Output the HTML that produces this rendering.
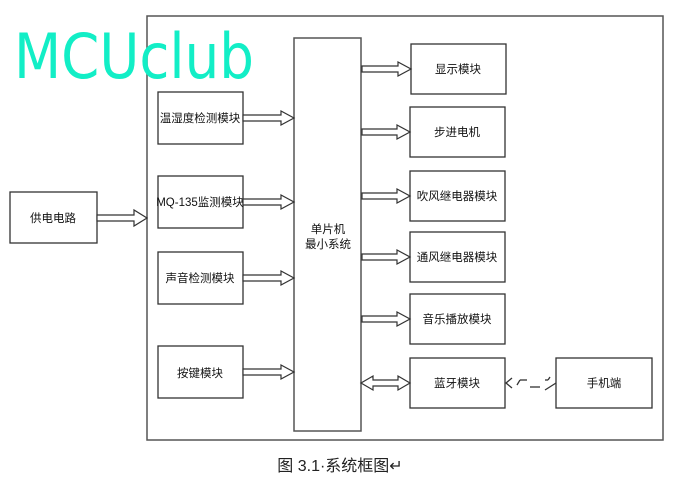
<!DOCTYPE html>
<html><head><meta charset="utf-8"><style>body{margin:0;background:#fff}svg{display:block}
text{font-family:"Liberation Sans","Noto Sans CJK SC",sans-serif;font-size:11.5px;fill:#111}</style></head>
<body>
<svg width="673" height="481" viewBox="0 0 673 481">
<g fill="#fff" stroke="#555" stroke-width="1.5">
<rect x="147" y="16" width="516" height="424"/>
<rect x="294" y="38" width="67" height="393"/>
</g>
<g fill="#fff" stroke="#333" stroke-width="1.3">
<rect x="158" y="92" width="85" height="52"/>
<rect x="158" y="176" width="85" height="52"/>
<rect x="158" y="252" width="85" height="52"/>
<rect x="158" y="346" width="85" height="52"/>
<rect x="10" y="192" width="87" height="51"/>
<rect x="411" y="44" width="95" height="50"/>
<rect x="410" y="107" width="95" height="50"/>
<rect x="410" y="171" width="95" height="50"/>
<rect x="410" y="232" width="95" height="50"/>
<rect x="410" y="294" width="95" height="50"/>
<rect x="410" y="358" width="95" height="50"/>
<rect x="556" y="358" width="96" height="50"/>
</g>
<g fill="#fff" stroke="#333" stroke-width="1.2">
<polygon points="243,115 281,115 281,111 294,118 281,125 281,121 243,121"/>
<polygon points="243,199 281,199 281,195 294,202 281,209 281,205 243,205"/>
<polygon points="243,275 281,275 281,271 294,278 281,285 281,281 243,281"/>
<polygon points="243,369 281,369 281,365 294,372 281,379 281,375 243,375"/>
<polygon points="97,215 134,215 134,210 147,218 134,226 134,221 97,221"/>
<polygon points="362,66 398,66 398,62 411,69 398,76 398,72 362,72"/>
<polygon points="362,129 397,129 397,125 410,132 397,139 397,135 362,135"/>
<polygon points="362,193 397,193 397,189 410,196 397,203 397,199 362,199"/>
<polygon points="362,254 397,254 397,250 410,257 397,264 397,260 362,260"/>
<polygon points="362,316 397,316 397,312 410,319 397,326 397,322 362,322"/>
<polygon points="361,383 373,376 373,380 398,380 398,376 410,383 398,390 398,386 373,386 373,390"/>
</g>
<g fill="none" stroke="#333" stroke-width="1.3">
<polyline points="512,378 506,383 512,388"/><line x1="517" y1="385" x2="520" y2="380"/>
<line x1="520" y1="380" x2="527" y2="380"/><line x1="530" y1="387" x2="540" y2="387"/>
<line x1="545" y1="380" x2="548" y2="380"/><line x1="548" y1="380" x2="550" y2="377"/>
<line x1="545" y1="390" x2="556" y2="383"/>
</g>
<text x="14" y="78" textLength="240" lengthAdjust="spacingAndGlyphs" style="font-family:'DejaVu Sans',sans-serif;font-size:62px;fill:#12eec6">MCUclub</text>
<g text-anchor="middle">
<text x="200" y="122">温湿度检测模块</text>
<text x="200" y="206">MQ-135监测模块</text>
<text x="200" y="282">声音检测模块</text>
<text x="200" y="377">按键模块</text>
<text x="53" y="222">供电电路</text>
<text x="328" y="233">单片机</text>
<text x="328" y="248">最小系统</text>
<text x="458" y="73">显示模块</text>
<text x="457" y="136">步进电机</text>
<text x="457" y="200">吹风继电器模块</text>
<text x="457" y="261">通风继电器模块</text>
<text x="457" y="323">音乐播放模块</text>
<text x="457" y="387">蓝牙模块</text>
<text x="604" y="387">手机端</text>
<text x="340" y="471" style="font-size:16px;fill:#222">图 3.1·系统框图↵</text>
</g>
</svg>
</body></html>
